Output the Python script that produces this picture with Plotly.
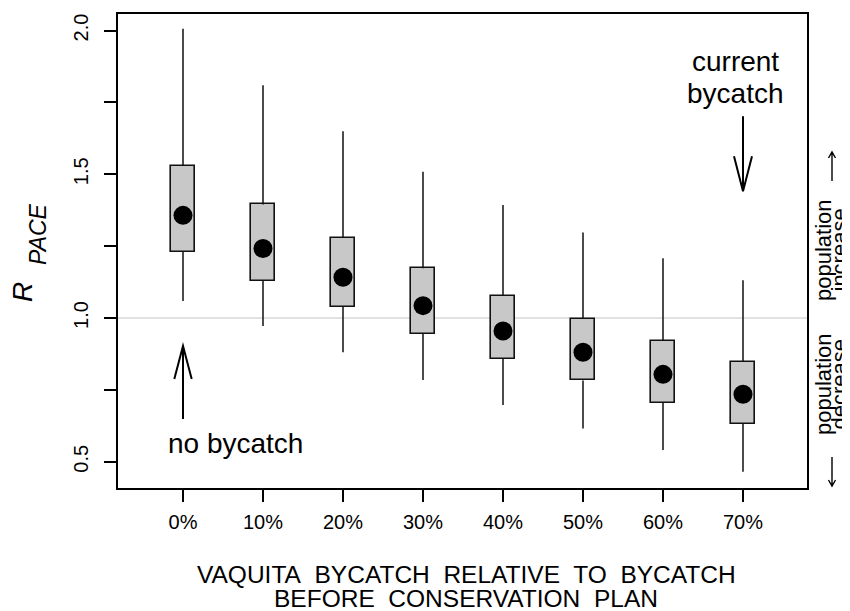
import plotly.graph_objects as go

categories = ["0%", "10%", "20%", "30%", "40%", "50%", "60%", "70%"]
whisker_hi = [2.006, 1.810, 1.650, 1.509, 1.393, 1.297, 1.208, 1.131]
q3 = [1.529, 1.395, 1.279, 1.173, 1.078, 0.997, 0.920, 0.848]
median = [1.357, 1.242, 1.142, 1.043, 0.955, 0.881, 0.804, 0.735]
q1 = [1.230, 1.129, 1.038, 0.944, 0.857, 0.783, 0.704, 0.632]
whisker_lo = [1.059, 0.972, 0.881, 0.784, 0.697, 0.616, 0.541, 0.465]
y_tick_vals = [0.5, 0.75, 1.0, 1.25, 1.5, 1.75, 2.0]
y_tick_text = ["0.5", "", "1.0", "", "1.5", "", "2.0"]

xpos = list(range(len(categories)))
FONT = "Liberation Sans, Arial, sans-serif"

# page body has an 8px margin: figure is shifted, compensate
OFF = 8
W, H = 850 - OFF, 611 - OFF

fig = go.Figure()

# whiskers
wx, wy = [], []
for i in xpos:
    wx += [i, i, None, i, i, None]
    wy += [q3[i], whisker_hi[i], None, q1[i], whisker_lo[i], None]
fig.add_trace(go.Scatter(x=wx, y=wy, mode="lines",
                         line=dict(color="#111111", width=1.5),
                         hoverinfo="skip", showlegend=False))

# boxes
fig.add_trace(go.Bar(x=xpos, y=[a - b for a, b in zip(q3, q1)], base=q1,
                     width=0.3, marker=dict(color="#c8c8c8",
                                            line=dict(color="#111111", width=1.6)),
                     showlegend=False))

# median dots
fig.add_trace(go.Scatter(x=xpos, y=median, mode="markers",
                         marker=dict(color="black", size=19),
                         showlegend=False))


def px(xp):
    return (xp - 118) / 689


def py(yp):
    return (488 - yp) / 474


shapes = [
    dict(type="line", xref="paper", x0=0, x1=1, yref="y", y0=1.0, y1=1.0,
         line=dict(color="#c4c4c4", width=1), layer="below"),
    # up arrow (no bycatch)
    dict(type="path", xref="x", yref="y", xsizemode="pixel", ysizemode="pixel",
         xanchor=0, yanchor=0.903,
         path="M 0 0 L 0 -73 M -8.7 -33 L 0 0 L 8.7 -33",
         line=dict(color="black", width=2)),
    # down arrow (current bycatch)
    dict(type="path", xref="x", yref="y", xsizemode="pixel", ysizemode="pixel",
         xanchor=7, yanchor=1.441,
         path="M 0 0 L 0 75 M -9 35 L 0 0 L 9 35",
         line=dict(color="black", width=2)),
    # right side small arrows
    dict(type="path", xref="paper", yref="paper", xsizemode="pixel", ysizemode="pixel",
         xanchor=px(832), yanchor=py(152),
         path="M 0 0 L 0 -29 M -3.5 -6 L 0 0 L 3.5 -6",
         line=dict(color="black", width=1.4)),
    dict(type="path", xref="paper", yref="paper", xsizemode="pixel", ysizemode="pixel",
         xanchor=px(832), yanchor=py(486),
         path="M 0 0 L 0 29 M -3.5 6 L 0 0 L 3.5 6",
         line=dict(color="black", width=1.4)),
]

ann = []


def A(text, x, y, size, xref="x", yref="y", angle=0, italic=False):
    ann.append(dict(text=text, x=x, y=y, xref=xref, yref=yref, showarrow=False,
                    xanchor="center", yanchor="middle", textangle=angle,
                    font=dict(family=FONT, size=size, color="black",
                              style="italic" if italic else "normal")))


A("no bycatch", 0.656, 0.562, 28)
A("current", 6.9, 1.893, 28)
A("bycatch", 6.9, 1.780, 28)

A("VAQUITA\u00a0 BYCATCH\u00a0 RELATIVE\u00a0 TO\u00a0 BYCATCH", px(466), py(574), 24.5, "paper", "paper")
A("BEFORE\u00a0 CONSERVATION\u00a0 PLAN", px(466), py(598), 24.5, "paper", "paper")

A("R", px(22), py(292), 28, "paper", "paper", -90, True)
A("PACE", px(38), py(234), 23, "paper", "paper", -90, True)

A("population", px(823), py(250), 22, "paper", "paper", -90)
A("increase", px(838.5), py(250), 22, "paper", "paper", -90)
A("population", px(823), py(384), 22, "paper", "paper", -90)
A("decrease", px(838.5), py(384), 22, "paper", "paper", -90)

fig.update_layout(
    width=W, height=H,
    margin=dict(l=118 - OFF, r=850 - 807, t=14 - OFF, b=611 - 488, autoexpand=False),
    paper_bgcolor="white", plot_bgcolor="white",
    showlegend=False, shapes=shapes, annotations=ann,
    font=dict(family=FONT, color="black"),
    bargap=0,
)
fig.update_xaxes(range=[-0.8125, 7.8], tickvals=xpos, ticktext=categories,
                 showgrid=False, zeroline=False, showline=True, mirror=True,
                 linecolor="black", linewidth=1.6, ticks="outside", ticklen=12,
                 tickwidth=1.5, tickcolor="black", ticklabelstandoff=3,
                 tickfont=dict(family=FONT, size=20, color="black"))
fig.update_yaxes(range=[0.4087, 2.0574], tickvals=y_tick_vals, ticktext=y_tick_text,
                 tickangle=-90,
                 showgrid=False, zeroline=False, showline=True, mirror=True,
                 linecolor="black", linewidth=1.6, ticks="outside", ticklen=12,
                 tickwidth=1.5, tickcolor="black", ticklabelstandoff=8,
                 tickfont=dict(family=FONT, size=20, color="black"))

fig.write_html("out.html")
